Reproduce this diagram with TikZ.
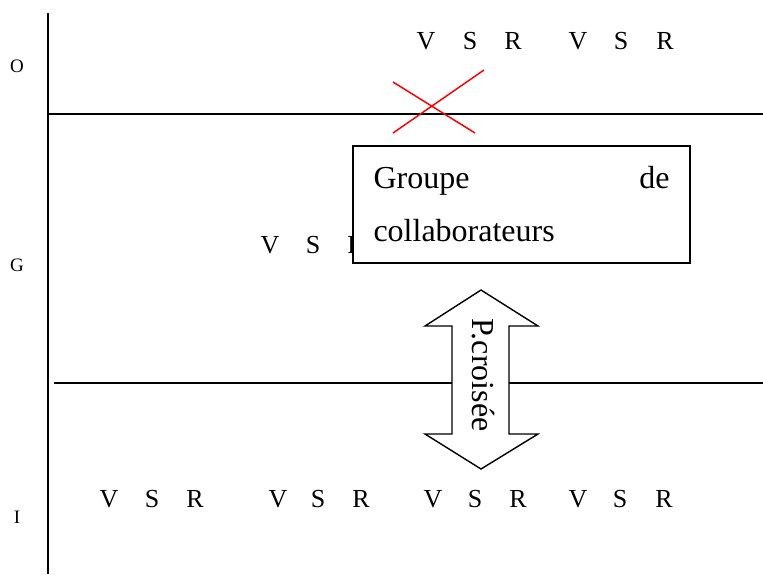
\documentclass[tikz,border=0pt]{standalone}
\usepackage{fontspec}
\setmainfont{Liberation Serif}
\begin{document}
\begin{tikzpicture}[x=1pt,y=-1pt,
  rule/.style={line width=1.4pt,black},
  lvl/.style={anchor=base,inner sep=0pt,font=\fontsize{19}{22}\selectfont},
  vsr/.style={anchor=base,inner sep=0pt,font=\fontsize{26}{30}\selectfont},
  grpbox/.style={draw,line width=1.8pt,fill=white,minimum width=337pt,minimum height=117pt,
    text width=296pt,align=left,inner sep=0pt,font=\fontsize{32}{53}\selectfont},
  cross/.style={red,line width=1.5pt},
  bigarrow/.style={draw,line width=1.4pt,fill=white,line join=miter}]
\useasboundingbox (0,0) rectangle (763,574);
% axes and bands
\coordinate (vtop) at (48,13);
\coordinate (vbot) at (48,574);
\coordinate (h1l) at (48,114);
\coordinate (h1r) at (763,114);
\coordinate (h2l) at (54,383);
\coordinate (h2r) at (763,383);
\draw[rule] (vtop) -- (vbot);
\draw[rule] (h1l) -- (h1r);
\draw[rule] (h2l) -- (h2r);
% level labels
\node[lvl] (lO) at (17,72) {O};
\node[lvl] (lG) at (17,271) {G};
\node[lvl] (lI) at (17,523) {I};
% top row
\foreach \x/\t [count=\i] in {426/V,470/S,513/R,578/V,621/S,665/R}
  \node[vsr,anchor=base] (t\i) at (\x,49) {\t};
% middle row
\foreach \x/\t [count=\i] in {270/V,313/S,356/R}
  \node[vsr,anchor=base] (m\i) at (\x,253) {\t};
% bottom row
\foreach \x/\t [count=\i] in {109/V,152/S,195/R,278/V,318/S,361/R,433/V,475/S,518/R,578/V,620/S,664/R}
  \node[vsr,anchor=base] (b\i) at (\x,507) {\t};
% box
\node[grpbox] (grp) at (521.5,204.5) {Groupe\hfill de\\collaborateurs};
% red cross
\coordinate (c1a) at (393,82);
\coordinate (c1b) at (475,133);
\coordinate (c2a) at (393,133);
\coordinate (c2b) at (484,70);
\draw[cross] (c1a) -- (c1b);
\draw[cross] (c2a) -- (c2b);
% double arrow
\draw[bigarrow] (481,290) -- (538,326) -- (509,326) -- (509,434) -- (538,434)
  -- (481,469) -- (425,434) -- (452,434) -- (452,326) -- (425,326) -- cycle;
\node[rotate=-90,inner sep=0pt,font=\fontsize{32}{38}\selectfont] (pc) at (483,375) {P.croisée};
\end{tikzpicture}
\end{document}
